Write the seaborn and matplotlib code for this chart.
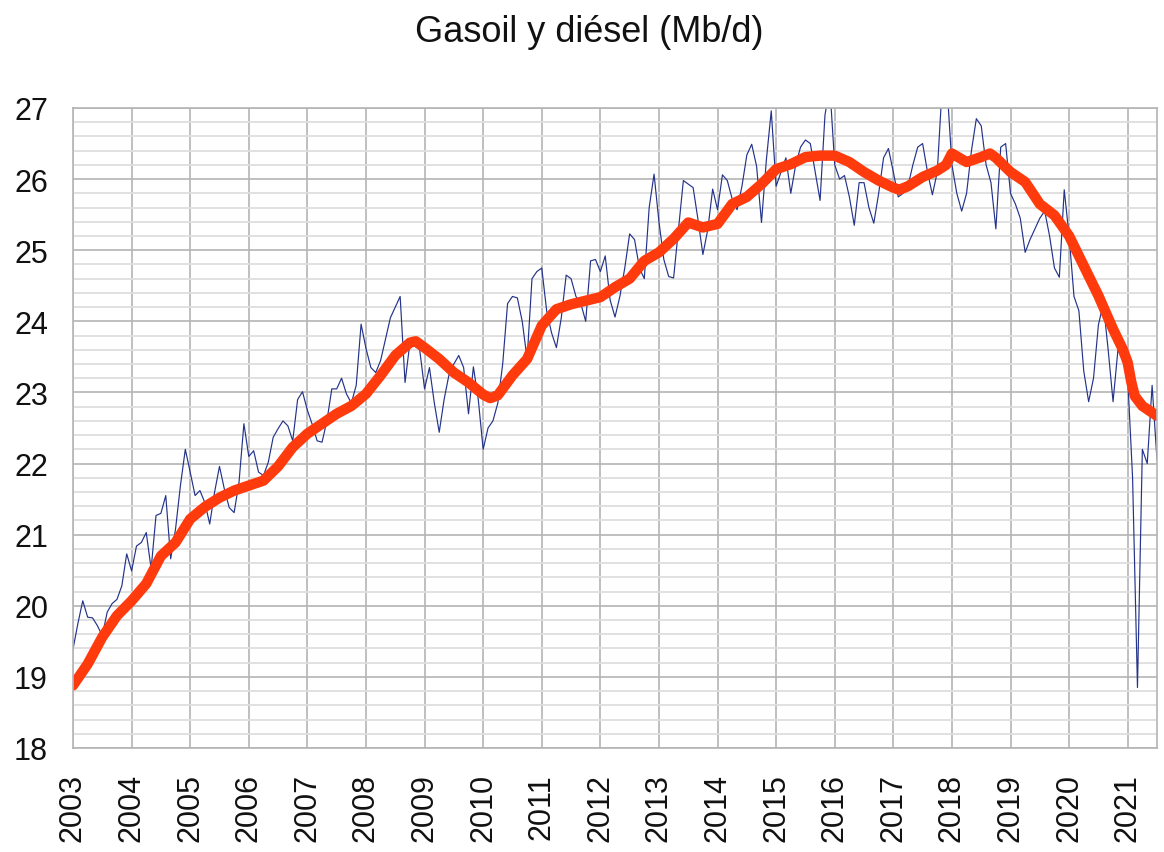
import numpy as np
import pandas as pd
import seaborn as sns
import matplotlib.pyplot as plt
from matplotlib.ticker import MultipleLocator

# Monthly values (Mb/d), Jan..Dec
y2003 = [19.39, 19.75, 20.07, 19.84, 19.83, 19.72, 19.58, 19.91, 20.03, 20.09, 20.28, 20.73]
y2004 = [20.49, 20.84, 20.89, 21.03, 20.52, 21.27, 21.30, 21.55, 20.66, 21.08, 21.69, 22.20]
y2005 = [21.88, 21.55, 21.62, 21.45, 21.15, 21.60, 21.96, 21.64, 21.38, 21.31, 21.74, 22.56]
y2006 = [22.10, 22.18, 21.88, 21.83, 22.02, 22.37, 22.49, 22.60, 22.53, 22.32, 22.90, 23.01]
y2007 = [22.75, 22.55, 22.32, 22.30, 22.60, 23.05, 23.05, 23.20, 22.98, 22.85, 23.10, 23.96]
y2008 = [23.62, 23.35, 23.28, 23.45, 23.75, 24.05, 24.20, 24.35, 23.14, 23.70, 23.65, 23.60]
y2009 = [23.05, 23.35, 22.85, 22.44, 22.90, 23.25, 23.40, 23.52, 23.35, 22.70, 23.36, 22.90]
y2010 = [22.20, 22.50, 22.60, 22.85, 23.40, 24.25, 24.35, 24.33, 24.00, 23.47, 24.60, 24.70]
y2011 = [24.75, 24.15, 23.84, 23.63, 24.05, 24.65, 24.60, 24.35, 24.25, 24.00, 24.85, 24.87]
y2012 = [24.70, 24.92, 24.30, 24.06, 24.35, 24.75, 25.23, 25.15, 24.75, 24.60, 25.60, 26.07]
y2013 = [25.40, 24.87, 24.63, 24.61, 25.29, 25.98, 25.93, 25.88, 25.43, 24.94, 25.29, 25.86]
y2014 = [25.57, 26.06, 25.98, 25.72, 25.57, 25.90, 26.34, 26.49, 26.18, 25.39, 26.27, 26.96]
y2015 = [25.90, 26.10, 26.30, 25.80, 26.20, 26.45, 26.55, 26.50, 26.10, 25.70, 26.90, 27.30]
y2016 = [26.20, 26.00, 26.05, 25.75, 25.35, 25.95, 25.95, 25.60, 25.38, 25.80, 26.30, 26.43]
y2017 = [26.10, 25.75, 25.80, 25.90, 26.20, 26.45, 26.50, 26.10, 25.78, 26.10, 27.30, 27.30]
y2018 = [26.20, 25.80, 25.55, 25.80, 26.40, 26.85, 26.75, 26.20, 25.95, 25.30, 26.45, 26.50]
y2019 = [25.80, 25.65, 25.45, 24.97, 25.15, 25.30, 25.45, 25.55, 25.20, 24.75, 24.62, 25.85]
y2020 = [25.20, 24.35, 24.15, 23.30, 22.87, 23.20, 23.95, 24.25, 23.60, 22.87, 23.60, 23.45]
y2021 = [23.20, 21.80, 18.85, 22.20, 22.00, 23.10, 22.05]

monthly = (y2003 + y2004 + y2005 + y2006 + y2007 + y2008 + y2009 + y2010 + y2011
           + y2012 + y2013 + y2014 + y2015 + y2016 + y2017 + y2018 + y2019 + y2020 + y2021)

# 12-month average (thick red line), read at roughly quarterly points
avg_t = [2003.00, 2003.25, 2003.50, 2003.75, 2004.00, 2004.25, 2004.50, 2004.75,
         2005.00, 2005.25, 2005.50, 2005.75, 2006.00, 2006.25, 2006.50, 2006.75,
         2007.00, 2007.25, 2007.50, 2007.75, 2008.00, 2008.25, 2008.50, 2008.75, 2008.85,
         2009.00, 2009.25, 2009.50, 2009.75, 2010.00, 2010.12, 2010.25, 2010.50, 2010.75,
         2011.00, 2011.25, 2011.50, 2011.75, 2012.00, 2012.25, 2012.50, 2012.75,
         2013.00, 2013.25, 2013.50, 2013.75, 2014.00, 2014.25, 2014.50, 2014.75,
         2015.00, 2015.25, 2015.50, 2015.75, 2016.00, 2016.25, 2016.50, 2016.75,
         2017.00, 2017.10, 2017.25, 2017.50, 2017.75, 2017.90, 2018.00, 2018.25, 2018.50,
         2018.65, 2018.75, 2019.00, 2019.25, 2019.50, 2019.75, 2020.00, 2020.25, 2020.50,
         2020.75, 2020.92, 2021.00, 2021.06, 2021.12, 2021.25, 2021.50]
avg_v = [18.88, 19.18, 19.56, 19.86, 20.07, 20.31, 20.70, 20.89,
         21.22, 21.39, 21.52, 21.62, 21.69, 21.76, 21.96, 22.23,
         22.42, 22.56, 22.70, 22.81, 22.98, 23.24, 23.52, 23.70, 23.72,
         23.63, 23.47, 23.28, 23.14, 22.97, 22.92, 22.96, 23.24, 23.47,
         23.94, 24.17, 24.24, 24.29, 24.34, 24.48, 24.60, 24.85,
         24.97, 25.16, 25.39, 25.32, 25.37, 25.65, 25.75, 25.93,
         26.14, 26.21, 26.31, 26.33, 26.33, 26.24, 26.10, 25.98,
         25.88, 25.85, 25.90, 26.03, 26.12, 26.20, 26.36, 26.24, 26.31,
         26.36, 26.30, 26.10, 25.96, 25.65, 25.49, 25.20, 24.78, 24.36,
         23.89, 23.60, 23.42, 23.15, 22.95, 22.81, 22.67]

years = list(range(2003, 2022))

df = pd.DataFrame({'t': 2003 + np.arange(len(monthly)) / 12, 'v': monthly})
df_avg = pd.DataFrame({'t': avg_t, 'v': avg_v})

sns.set_style("white")
plt.rcParams['font.family'] = ['Liberation Sans', 'DejaVu Sans']

fig = plt.figure(figsize=(11.64, 8.53), dpi=100)
ax = fig.add_axes([73 / 1164, 1 - 749 / 853, (1157 - 73) / 1164, (749 - 109) / 853])

sns.lineplot(data=df, x='t', y='v', ax=ax, color='#24338a', linewidth=0.85,
             estimator=None, sort=False)
sns.lineplot(data=df_avg, x='t', y='v', ax=ax, color='#ff3a0c', linewidth=7.5,
             estimator=None, sort=False, solid_capstyle='round',
             solid_joinstyle='round')

ax.set_xlim(2003, 2021.5)
ax.set_ylim(18, 27)
ax.set_xticks(years)
ax.set_xticklabels([str(y) for y in years], rotation=90)
ax.set_yticks(range(18, 28))
ax.yaxis.set_minor_locator(MultipleLocator(0.2))
ax.set_xlabel('')
ax.set_ylabel('')

grid_col = '#b4b4b4'
ax.set_axisbelow(True)
ax.grid(which='major', color=grid_col, linewidth=1.2)
ax.yaxis.grid(which='minor', color='#dedede', linewidth=1.3)
ax.tick_params(which='major', length=11, width=1.2, color=grid_col,
               labelsize=22, pad=7, labelcolor='#111111')
ax.tick_params(which='minor', length=0)
for s in ax.spines.values():
    s.set_color(grid_col)
    s.set_linewidth(1.2)

fig.text(0.506, 0.962, 'Gasoil y diésel (Mb/d)', ha='center', va='center',
         fontsize=26, color='#111111')

fig.savefig('out.png', dpi=100)
